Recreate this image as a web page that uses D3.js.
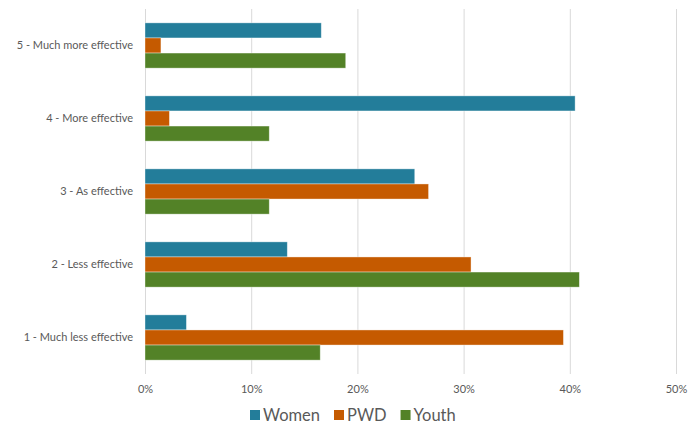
<!DOCTYPE html>
<html>
<head>
<meta charset="utf-8">
<script src="https://cdn.jsdelivr.net/npm/d3@7"></script>
<style>
  body { margin: 0; background: #fff; }
  svg { font-family: Lato, "Open Sans", sans-serif; }
</style>
</head>
<body>
<div id="chart"></div>
<script>
// categories, top to bottom as drawn
const categories = ["5 - Much more effective", "4 - More effective", "3 - As effective", "2 - Less effective", "1 - Much less effective"];
const seriesNames = ["Women", "PWD", "Youth"];
const seriesColors = ["#237d9a", "#c55a00", "#538227"];

// percentages, same order as categories
const women = [16.6, 40.5, 25.4, 13.4, 3.9];
const pwd = [1.5, 2.3, 26.7, 30.7, 39.4];
const youth = [18.9, 11.7, 11.7, 40.9, 16.5];

const xTicks = [0, 10, 20, 30, 40, 50];

const width = 698, height = 425;
const margins = { top: 9, left: 145, right: 22, bottom: 51 };

const svg = d3.select("#chart").append("svg")
  .attr("width", width)
  .attr("height", height);

const x = d3.scaleLinear()
  .domain([0, 50])
  .range([margins.left, width - margins.right]);

const y = d3.scaleBand()
  .domain(categories)
  .range([margins.top, height - margins.bottom])
  .paddingInner(0.38)
  .paddingOuter(0.19);

const ySub = d3.scaleBand()
  .domain(seriesNames)
  .range([0, y.bandwidth()]);

const values = { "Women": women, "PWD": pwd, "Youth": youth };

// gridlines
svg.append("g")
  .selectAll("line")
  .data(xTicks)
  .join("line")
  .attr("x1", d => x(d) + 0.5)
  .attr("x2", d => x(d) + 0.5)
  .attr("y1", margins.top)
  .attr("y2", height - margins.bottom)
  .attr("stroke", "#d9d9d9")
  .attr("stroke-width", 1);

// bars
seriesNames.forEach((s, si) => {
  svg.append("g")
    .selectAll("rect")
    .data(categories)
    .join("rect")
    .attr("x", x(0))
    .attr("y", c => y(c) + ySub(s))
    .attr("width", (c, i) => x(values[s][i]) - x(0))
    .attr("height", ySub.bandwidth())
    .attr("fill", seriesColors[si])
    .attr("stroke", "#ffffff")
    .attr("stroke-opacity", 0.5)
    .attr("stroke-width", 0.75);
});

// x axis labels
const xAxis = d3.axisBottom(x)
  .tickValues(xTicks)
  .tickFormat(d => d + "%")
  .tickSize(0)
  .tickPadding(11);

const gx = svg.append("g")
  .attr("transform", `translate(0,${height - margins.bottom})`)
  .call(xAxis);
gx.select(".domain").remove();
gx.selectAll("text")
  .attr("fill", "#595959")
  .style("font-size", "11px")
  .style("font-family", "Lato, sans-serif");

// y axis labels
const yAxis = d3.axisLeft(y).tickSize(0).tickPadding(12);
const gy = svg.append("g")
  .attr("transform", `translate(${margins.left},0)`)
  .call(yAxis);
gy.select(".domain").remove();
gy.selectAll("text")
  .attr("fill", "#595959")
  .style("font-size", "11px")
  .style("font-family", "Lato, sans-serif");

// legend
const legend = svg.append("g")
  .attr("transform", "translate(250,0)");
let lx = 0;
seriesNames.forEach((s, i) => {
  const item = legend.append("g").attr("transform", `translate(${lx},0)`);
  item.append("rect")
    .attr("x", 0)
    .attr("y", 410)
    .attr("width", 10)
    .attr("height", 10)
    .attr("fill", seriesColors[i]);
  const t = item.append("text")
    .attr("x", 13)
    .attr("y", 421)
    .attr("fill", "#595959")
    .style("font-size", "16.5px")
    .text(s);
  lx += 13 + t.node().getComputedTextLength() + 14;
});
</script>
</body>
</html>
